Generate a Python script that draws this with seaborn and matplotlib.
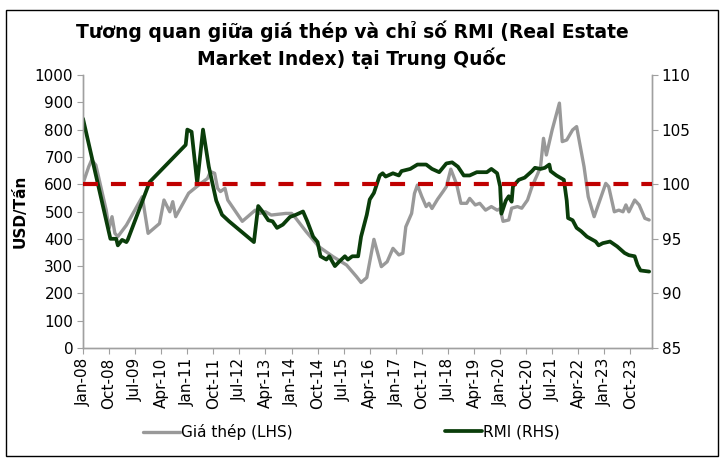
import pandas as pd
import numpy as np
import matplotlib
matplotlib.use("Agg")
import matplotlib.pyplot as plt
import seaborn as sns
from matplotlib.patches import Rectangle

# Steel price (USD/tonne, left axis)
steel_dates = [
    "2008-01-01", "2008-03-01", "2008-04-01", "2008-05-15", "2008-09-01", "2008-10-01",
    "2008-11-01", "2008-12-01", "2009-01-01", "2009-04-01", "2009-09-15", "2009-11-15",
    "2010-03-15", "2010-05-01", "2010-07-01", "2010-08-01", "2010-09-01", "2011-01-15",
    "2011-05-01", "2011-08-01", "2011-09-01", "2011-10-15", "2011-11-15", "2011-12-15",
    "2012-02-01", "2012-03-01", "2012-08-01", "2012-12-15", "2013-02-01", "2013-04-01",
    "2013-06-01", "2013-11-01", "2014-01-01", "2014-02-15", "2014-06-01", "2014-10-15",
    "2015-03-15", "2015-08-01", "2015-11-15", "2016-01-01", "2016-03-01", "2016-05-15",
    "2016-08-01", "2016-10-01", "2016-12-01", "2017-02-01", "2017-03-15", "2017-04-15",
    "2017-06-15", "2017-07-15", "2017-08-15", "2017-10-01", "2017-11-15", "2017-12-15",
    "2018-01-15", "2018-03-15", "2018-05-15", "2018-06-15", "2018-08-01", "2018-10-01",
    "2018-11-15", "2019-01-15", "2019-02-15", "2019-04-15", "2019-06-01", "2019-08-01",
    "2019-10-01", "2019-12-01", "2020-01-01", "2020-02-01", "2020-04-01", "2020-05-01",
    "2020-07-01", "2020-08-15", "2020-10-15", "2020-12-01", "2021-02-01", "2021-03-01",
    "2021-04-01", "2021-05-01", "2021-07-01", "2021-09-15", "2021-10-15", "2021-12-01",
    "2022-02-01", "2022-03-15", "2022-06-01", "2022-07-15", "2022-09-15", "2022-11-15",
    "2023-01-15", "2023-02-15", "2023-04-15", "2023-06-01", "2023-07-15", "2023-08-15",
    "2023-09-15", "2023-11-15", "2024-01-01", "2024-03-01", "2024-04-15",
]
steel_price = [
    603, 664, 689, 670, 505, 438,
    481, 420, 408, 450, 554, 420,
    456, 542, 499, 536, 481, 567,
    597, 621, 646, 640, 585, 573,
    585, 542, 464, 505, 493, 499,
    487, 493, 493, 475, 427, 371,
    334, 304, 261, 240, 258, 398,
    298, 316, 365, 341, 347, 444,
    493, 566, 597, 554, 518, 530,
    511, 545, 575, 591, 655, 600,
    530, 530, 548, 524, 530, 505,
    518, 505, 510, 464, 469, 512,
    518, 512, 542, 591, 640, 664,
    768, 707, 799, 897, 756, 762,
    799, 811, 664, 554, 481, 542,
    603, 591, 499, 505, 499, 524,
    499, 542, 524, 475, 469,
]

# Real Estate Market Index (right axis)
rmi_dates = [
    "2008-01-01", "2008-10-15", "2008-12-15", "2009-01-01", "2009-02-15", "2009-04-01",
    "2009-04-15", "2009-12-01", "2010-12-15", "2011-01-01", "2011-02-15", "2011-04-15",
    "2011-06-15", "2011-08-15", "2011-11-01", "2012-01-01", "2012-03-15", "2012-12-01",
    "2013-01-15", "2013-03-01", "2013-05-01", "2013-06-15", "2013-08-01", "2013-10-01",
    "2013-12-15", "2014-02-15", "2014-05-01", "2014-06-15", "2014-08-15", "2014-10-01",
    "2014-11-01", "2015-01-01", "2015-02-01", "2015-04-01", "2015-05-15", "2015-07-15",
    "2015-08-15", "2015-10-01", "2015-12-01", "2016-01-01", "2016-03-01", "2016-04-01",
    "2016-05-15", "2016-07-15", "2016-08-15", "2016-09-15", "2016-12-01", "2017-02-01",
    "2017-03-01", "2017-06-01", "2017-08-15", "2017-11-15", "2018-01-15", "2018-04-01",
    "2018-06-15", "2018-08-15", "2018-10-15", "2018-12-15", "2019-02-15", "2019-05-01",
    "2019-08-15", "2019-10-01", "2019-12-01", "2020-01-01", "2020-01-15", "2020-03-01",
    "2020-04-01", "2020-05-01", "2020-05-15", "2020-07-15", "2020-09-15", "2020-12-01",
    "2021-01-01", "2021-03-01", "2021-04-15", "2021-06-01", "2021-06-15", "2021-08-15",
    "2021-11-01", "2021-12-01", "2021-12-15", "2022-02-01", "2022-03-15", "2022-05-01",
    "2022-07-01", "2022-10-01", "2022-11-01", "2022-12-15", "2023-03-01", "2023-05-15",
    "2023-08-01", "2023-09-15", "2023-11-15", "2023-12-15", "2024-01-15", "2024-04-15",
]
rmi_index = [
    106.0, 95.0, 95.0, 94.4, 94.9, 94.7,
    94.9, 100.2, 103.6, 105.0, 104.8, 100.1,
    105.0, 101.6, 98.5, 97.2, 96.6, 94.7,
    98.0, 97.5, 96.7, 96.6, 96.0, 96.3,
    97.0, 97.2, 97.5, 96.6, 95.2, 94.7,
    93.4, 93.1, 93.4, 92.5, 92.9, 93.4,
    93.1, 93.4, 93.4, 95.2, 97.2, 98.6,
    99.2, 100.8, 101.0, 100.7, 101.0, 100.8,
    101.2, 101.4, 101.8, 101.8, 101.4, 101.1,
    101.9, 102.0, 101.6, 100.8, 100.8, 101.1,
    101.1, 101.4, 101.0, 99.8, 97.3, 98.5,
    98.9, 98.4, 99.8, 100.4, 100.6, 101.2,
    101.5, 101.4, 101.5, 101.8, 101.2, 100.8,
    100.4, 98.5, 96.9, 96.7, 96.0, 95.7,
    95.2, 94.75, 94.4, 94.6, 94.75, 94.3,
    93.7, 93.5, 93.4, 92.6, 92.1, 92.0,
]

left_ticks = list(range(0, 1001, 100))
right_ticks = list(range(85, 111, 5))

df_steel = pd.DataFrame({"date": pd.to_datetime(steel_dates), "value": steel_price})
df_rmi = pd.DataFrame({"date": pd.to_datetime(rmi_dates), "value": rmi_index})

sns.set_style("white")
plt.rcParams["font.family"] = ["DejaVu Sans"]
plt.rcParams.update({"text.color": "black", "axes.labelcolor": "black",
                     "xtick.color": "black", "ytick.color": "black"})

fig = plt.figure(figsize=(7.24, 4.63), dpi=100)
ax = fig.add_axes([83 / 724, 1 - 348 / 463, (652 - 83) / 724, (348 - 75) / 463])
ax2 = ax.twinx()

grey = "#999999"
green = "#0a3d0a"

sns.lineplot(data=df_steel, x="date", y="value", ax=ax, color=grey, linewidth=2.4,
             label="Giá thép (LHS)", legend=False)
sns.lineplot(data=df_rmi, x="date", y="value", ax=ax2, color=green, linewidth=2.7,
             label="RMI (RHS)", legend=False)
ax2.axhline(100, color="#c00000", linewidth=3, dashes=(3.6, 3.1), zorder=5)

ax.set_ylim(0, 1000)
ax.set_yticks(left_ticks)
ax2.set_ylim(85, 110)
ax2.set_yticks(right_ticks)
ax.set_xlim(pd.Timestamp("2008-01-01"), pd.Timestamp("2024-05-15"))

xticks = pd.date_range("2008-01-01", "2023-10-01", freq="9MS")
ax.set_xticks(xticks)
ax.set_xticklabels([d.strftime("%b-%y") for d in xticks], rotation=90, fontsize=11)

ax.set_xlabel("")
ax.set_ylabel("USD/Tấn", fontsize=11, fontweight="bold", labelpad=5)
ax2.set_ylabel("")
ax.tick_params(axis="y", labelsize=11, length=4, color="#a0a0a0", labelcolor="black",
               direction="out", left=True, pad=3)
ax.tick_params(axis="x", length=4, color="#a0a0a0", labelcolor="black",
               direction="out", bottom=True, pad=3)
ax2.tick_params(axis="y", labelsize=11, length=4, color="#a0a0a0", labelcolor="black",
                direction="out", right=True, pad=3)

for a in (ax, ax2):
    a.spines["top"].set_visible(False)
    for s in ("left", "right", "bottom"):
        a.spines[s].set_color("#a0a0a0")
        a.spines[s].set_linewidth(1)

fig.text(352 / 724, 1 - 45 / 463,
         "Tương quan giữa giá thép và chỉ số RMI (Real Estate\nMarket Index) tại Trung Quốc",
         ha="center", va="center", fontsize=13.5, fontweight="bold", linespacing=1.3,
         color="black")

h1, l1 = ax.get_legend_handles_labels()
h2, l2 = ax2.get_legend_handles_labels()
fig.legend(h1, l1, loc="center left", bbox_to_anchor=(143 / 724, 1 - 432 / 463),
           frameon=False, fontsize=11, handlelength=2.4, handletextpad=0.1,
           borderpad=0, borderaxespad=0, labelcolor="black")
fig.legend(h2, l2, loc="center left", bbox_to_anchor=(445 / 724, 1 - 432 / 463),
           frameon=False, fontsize=11, handlelength=2.4, handletextpad=0.1,
           borderpad=0, borderaxespad=0, labelcolor="black")

fig.patches.append(Rectangle((6 / 724, 1 - 456 / 463), 712 / 724, 446 / 463,
                             transform=fig.transFigure, fill=False, edgecolor="black",
                             linewidth=1))

fig.savefig("out.png", dpi=100)
